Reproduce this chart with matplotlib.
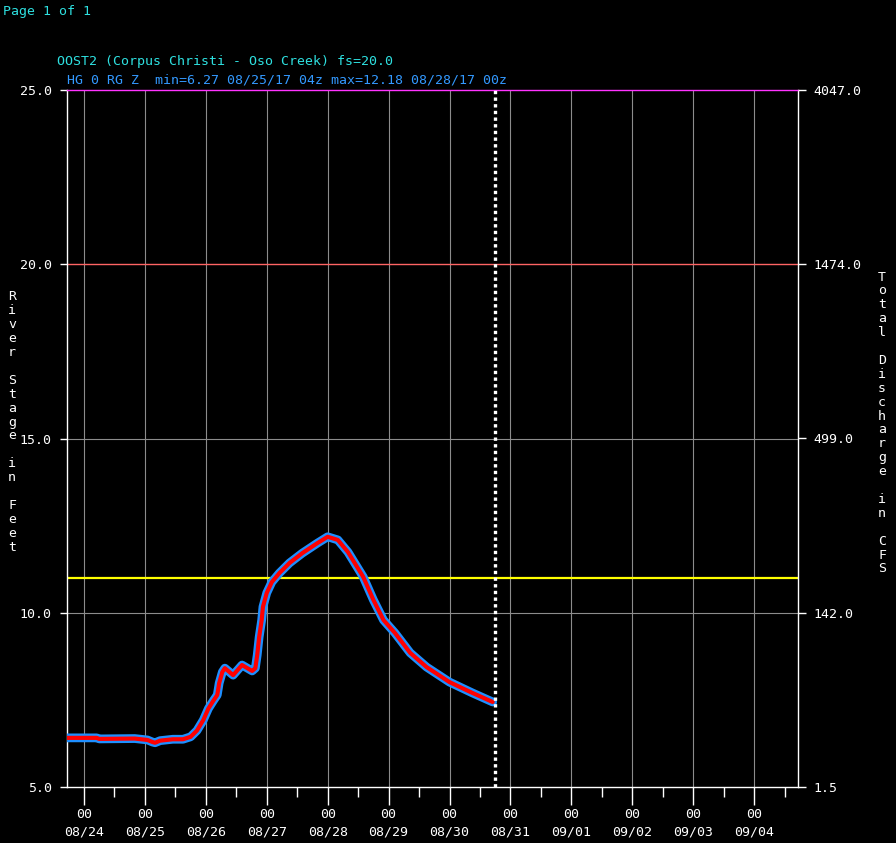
import pandas as pd
import matplotlib
matplotlib.use("Agg")
import matplotlib.pyplot as plt
import matplotlib.dates as mdates

obs_time = ["2017-08-23 17:00", "2017-08-24 05:00", "2017-08-24 06:00", "2017-08-24 20:00",
            "2017-08-25 01:00", "2017-08-25 03:00", "2017-08-25 04:00", "2017-08-25 06:00",
            "2017-08-25 11:00", "2017-08-25 15:00", "2017-08-25 18:00", "2017-08-25 20:30",
            "2017-08-25 23:00", "2017-08-26 01:00", "2017-08-26 03:00", "2017-08-26 04:30",
            "2017-08-26 05:15", "2017-08-26 06:30", "2017-08-26 07:30", "2017-08-26 10:45",
            "2017-08-26 14:15", "2017-08-26 18:15", "2017-08-26 19:30", "2017-08-26 20:15",
            "2017-08-26 21:00", "2017-08-26 22:00", "2017-08-26 22:30", "2017-08-27 00:00",
            "2017-08-27 02:00", "2017-08-27 05:00", "2017-08-27 09:00", "2017-08-27 14:00",
            "2017-08-27 20:00", "2017-08-28 00:00", "2017-08-28 04:00", "2017-08-28 08:00",
            "2017-08-28 14:00", "2017-08-28 18:00", "2017-08-28 22:00", "2017-08-29 02:30",
            "2017-08-29 08:30", "2017-08-29 15:00", "2017-08-30 00:00", "2017-08-30 09:00",
            "2017-08-30 17:00"]
obs_stage = [6.41, 6.41, 6.38, 6.39, 6.35, 6.29, 6.27, 6.33,
             6.37, 6.37, 6.44, 6.62, 6.92, 7.25, 7.48, 7.64,
             7.98, 8.30, 8.41, 8.21, 8.50, 8.33, 8.41, 8.79,
             9.30, 9.79, 10.17, 10.57, 10.88, 11.14, 11.43, 11.71,
             12.00, 12.18, 12.09, 11.74, 11.03, 10.37, 9.79, 9.42,
             8.85, 8.44, 8.01, 7.70, 7.44]

stage_ticks = [5.0, 10.0, 15.0, 20.0, 25.0]
flow_labels = ["1.5", "142.0", "499.0", "1474.0", "4047.0"]
flood_stage = 20.0
action_stage = 11.0
now_time = "2017-08-30 18:00"

t = pd.to_datetime(obs_time)

plt.rcParams['font.family'] = ['DejaVu Sans Mono']
fs = 9.5
W, H = 896, 843
fig = plt.figure(figsize=(W / 100, H / 100), dpi=100, facecolor='black')
ax = fig.add_axes([67 / W, 1 - 787 / H, (798 - 67) / W, (787 - 90) / H], facecolor='black')

x0 = pd.Timestamp("2017-08-24 00:00") - pd.Timedelta(hours=6.7)
x1 = pd.Timestamp("2017-08-24 00:00") + pd.Timedelta(hours=281.3)
ax.set_xlim(x0, x1)
ax.set_ylim(5, 25)

# reference lines
for yv in [10, 15]:
    ax.axhline(yv, color='#8c8c8c', lw=0.8, zorder=1)
ax.axhline(flood_stage, color='#ff6464', lw=1.0, zorder=1)
ax.axhline(action_stage, color='#ffff00', lw=1.6, zorder=1)
ax.grid(axis='x', which='major', color='#8c8c8c', lw=0.8, zorder=1)
ax.set_axisbelow(True)

# data
ax.plot(t, obs_stage, color='#1e8fff', lw=6.3, solid_capstyle='round',
        solid_joinstyle='round', zorder=3)
ax.plot(t, obs_stage, color='#ff0000', lw=3.0, solid_capstyle='round',
        solid_joinstyle='round', zorder=4)

ax.axvline(pd.Timestamp(now_time), color='white', lw=2.4, linestyle=(0, (1.0, 1.0)), zorder=5)

# axes styling
for side in ['left', 'right', 'bottom']:
    ax.spines[side].set_color('white')
    ax.spines[side].set_linewidth(1.0)
ax.spines['top'].set_color('#ff33ff')
ax.spines['top'].set_linewidth(1.0)

ax.xaxis.set_major_locator(mdates.DayLocator())
ax.xaxis.set_minor_locator(mdates.HourLocator(byhour=[12]))
ax.xaxis.set_major_formatter(mdates.DateFormatter('%H\n%m/%d'))
ax.tick_params(axis='x', which='major', direction='out', length=13, width=1, color='white',
               labelcolor='white', labelsize=fs, pad=2)
ax.tick_params(axis='x', which='minor', direction='out', length=7, width=1, color='white')
for lab in ax.get_xticklabels():
    lab.set_linespacing(1.5)

ax.set_yticks(stage_ticks)
ax.set_yticklabels([f"{v:.1f}" for v in stage_ticks])
ax.tick_params(axis='y', direction='out', length=5, width=1, color='white',
               labelcolor='white', labelsize=fs, pad=6)

ax2 = ax.twinx()
ax2.set_ylim(5, 25)
ax2.set_yticks(stage_ticks)
ax2.set_yticklabels(flow_labels)
ax2.tick_params(axis='y', direction='out', length=6, width=1, color='white',
                labelcolor='white', labelsize=fs, pad=5)
for s in ax2.spines.values():
    s.set_visible(False)

# titles and axis labels
fig.text(3 / W, 1 - 11 / H, "Page 1 of 1", color='#2ee0e0', fontsize=fs, va='center')
fig.text(57 / W, 1 - 62 / H, "OOST2 (Corpus Christi - Oso Creek) fs=20.0", color='#2ee0e0',
         fontsize=fs, va='center')
fig.text(67 / W, 1 - 80 / H, "HG 0 RG Z  min=6.27 08/25/17 04z max=12.18 08/28/17 00z",
         color='#3399ff', fontsize=fs, va='center')

fig.text(12 / W, 1 - 422 / H, "\n".join("River Stage in Feet"), color='white', fontsize=fs,
         ha='center', va='center', linespacing=1.09)
fig.text(882 / W, 1 - 423 / H, "\n".join("Total Discharge in CFS"), color='white', fontsize=fs,
         ha='center', va='center', linespacing=1.09)

fig.savefig("out.png", dpi=100, facecolor='black')
